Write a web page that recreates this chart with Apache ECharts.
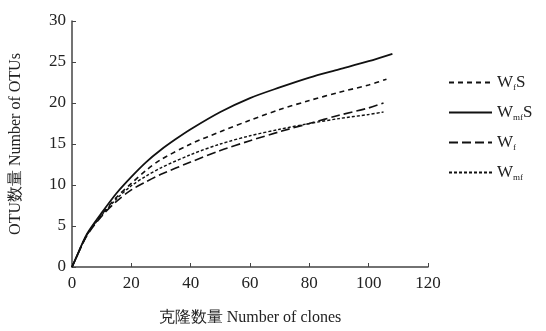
<!DOCTYPE html>
<html><head><meta charset="utf-8">
<script src="https://cdn.jsdelivr.net/npm/echarts@6/dist/echarts.min.js"></script>
<style>html,body{margin:0;padding:0;background:#fff}#c{width:546px;height:331px}</style>
</head><body><div id="c"></div>
<script>
const seriesNames = ['WfS', 'WmfS', 'Wf', 'Wmf'];
const xWfS = [1, 5, 10, 15, 20, 25, 30, 40, 50, 60, 70, 80, 90, 100, 106];
const yWfS = [0.8, 3.9, 6.4, 8.5, 10.2, 11.8, 13.1, 15.0, 16.5, 17.9, 19.2, 20.3, 21.3, 22.2, 22.9];
const xWmfS = [1, 5, 10, 15, 20, 25, 30, 35, 40, 50, 60, 70, 80, 90, 100, 108];
const yWmfS = [0.8, 4.0, 6.6, 9.0, 11.0, 12.8, 14.3, 15.6, 16.8, 18.9, 20.6, 21.9, 23.1, 24.1, 25.1, 26.0];
const xWf = [1, 5, 10, 15, 20, 25, 30, 40, 50, 60, 70, 80, 90, 100, 105];
const yWf = [0.8, 3.8, 6.2, 8.0, 9.4, 10.4, 11.3, 12.8, 14.2, 15.4, 16.5, 17.5, 18.5, 19.4, 20.0];
const xWmf = [1, 5, 10, 15, 20, 25, 30, 40, 50, 60, 70, 80, 90, 100, 105];
const yWmf = [0.8, 3.9, 6.3, 8.3, 9.9, 11.1, 12.1, 13.7, 15.0, 16.0, 16.8, 17.5, 18.1, 18.6, 18.9];
const xTicks = [0, 20, 40, 60, 80, 100, 120];
const yTicks = [0, 5, 10, 15, 20, 25, 30];

const font = 'Liberation Serif';
const pair = (xs, ys) => [[0, 0]].concat(xs.map((x, i) => [x, ys[i]]));
const legendLabels = {WfS: 'W{s|f}S', WmfS: 'W{s|mf}S', Wf: 'W{s|f}', Wmf: 'W{s|mf}'};
const mk = (name, xs, ys, type, width) => ({
  name, type: 'line', data: pair(xs, ys), smooth: 0.3, symbol: 'none', showSymbol: false,
  lineStyle: {color: '#111', width, type}, itemStyle: {color: '#111'}
});
const chart = echarts.init(document.getElementById('c'));
chart.setOption({
  animation: false,
  grid: {left: 70, right: 118, top: 21, bottom: 63},
  xAxis: {
    type: 'value', min: 0, max: 120, interval: 20,
    name: '克隆数量 Number of clones', nameLocation: 'middle', nameGap: 43,
    nameTextStyle: {fontFamily: font, fontSize: 16, color: '#222'},
    axisLine: {lineStyle: {color: '#444', width: 1.5}},
    axisTick: {inside: true, length: 4, lineStyle: {color: '#444'}},
    axisLabel: {fontFamily: font, fontSize: 17, color: '#222', margin: 8},
    splitLine: {show: false}
  },
  yAxis: {
    type: 'value', min: 0, max: 30, interval: 5,
    name: 'OTU数量 Number of OTUs', nameLocation: 'middle', nameGap: 48,
    nameTextStyle: {fontFamily: font, fontSize: 16, color: '#222'},
    axisLine: {show: true, lineStyle: {color: '#444', width: 1.5}},
    axisTick: {show: true, inside: true, length: 4, lineStyle: {color: '#444'}},
    axisLabel: {fontFamily: font, fontSize: 17, color: '#222', margin: 6},
    splitLine: {show: false}
  },
  legend: {
    orient: 'vertical', left: 443, top: 69, itemWidth: 43, itemHeight: 14, itemGap: 12,
    data: seriesNames,
    itemStyle: {opacity: 0},
    formatter: n => legendLabels[n],
    textStyle: {fontFamily: font, fontSize: 17, color: '#222',
      rich: {s: {fontFamily: font, fontSize: 9, color: '#222', padding: [10, 0, 0, 0]}}}
  },
  series: [
    mk('WfS', xWfS, yWfS, [5, 4], 1.6),
    mk('WmfS', xWmfS, yWmfS, 'solid', 1.8),
    mk('Wf', xWf, yWf, [9, 4], 1.6),
    mk('Wmf', xWmf, yWmf, [3, 2], 1.4)
  ]
});
</script></body></html>
